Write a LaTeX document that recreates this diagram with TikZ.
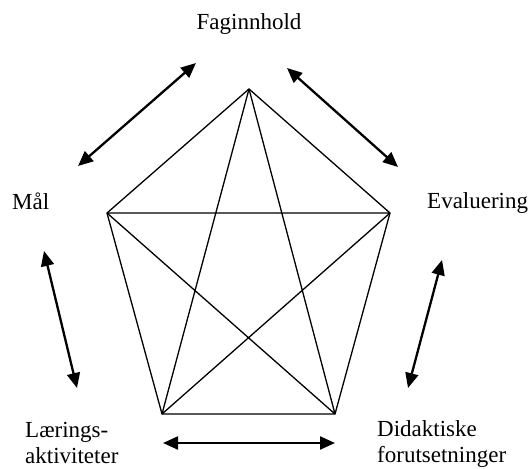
\documentclass[tikz,border=0pt]{standalone}
\usepackage{fontspec}
\setmainfont{Liberation Serif}
\usetikzlibrary{arrows.meta}
\tikzset{
  edge/.style={line width=1.3pt, line join=miter},
  dbl/.style={line width=2.3pt, {Triangle[length=15pt,width=13pt]}-{Triangle[length=15pt,width=13pt]}},
  lbl/.style={inner sep=0pt, font=\fontsize{23pt}{26pt}\selectfont}
}
\newcommand{\twolines}[2]{\begin{tabular}[t]{@{}l@{}}#1\\#2\end{tabular}}
\begin{document}
\begin{tikzpicture}[x=1pt,y=-1pt]
\useasboundingbox (0,0) rectangle (532,468);
% pentagon vertices
\coordinate (T) at (249,89);
\coordinate (L) at (107,213);
\coordinate (R) at (390,213);
\coordinate (BL) at (162,414);
\coordinate (BR) at (335,414);
% pentagon and star
\draw[edge] (T) -- (R) -- (BR) -- (BL) -- (L) -- cycle;
\draw[edge] (T) -- (BL) (T) -- (BR) (L) -- (R) (L) -- (BR) (R) -- (BL);
% labels
\node[lbl, anchor=base] (fag) at (249,30) {Faginnhold};
\node[lbl, anchor=base west] (mal) at (12,209) {Mål};
\node[lbl, anchor=base west] (eva) at (427,208) {Evaluering};
\node[lbl, anchor=base west] (lar) at (25,437) {\twolines{Lærings-}{aktiviteter}};
\node[lbl, anchor=base west] (did) at (377,436) {\twolines{Didaktiske}{forutsetninger}};
% arrow end points
\coordinate (a1) at (78,166);  \coordinate (a2) at (196,63);
\coordinate (b1) at (287,68);  \coordinate (b2) at (398,167);
\coordinate (c1) at (44,251);  \coordinate (c2) at (77,388);
\coordinate (d1) at (442,260); \coordinate (d2) at (408,388);
\coordinate (e1) at (163,443); \coordinate (e2) at (335,443);
\draw[dbl] (a1) -- (a2);
\draw[dbl] (b1) -- (b2);
\draw[dbl] (c1) -- (c2);
\draw[dbl] (d1) -- (d2);
\draw[dbl] (e1) -- (e2);
\end{tikzpicture}
\end{document}
